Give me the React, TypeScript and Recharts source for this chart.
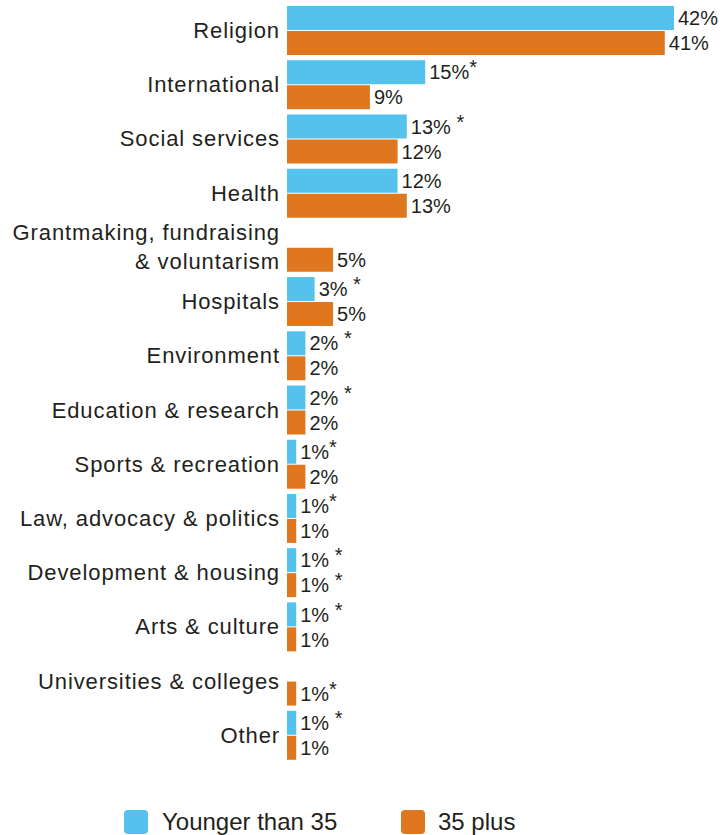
import React from "react";
import { BarChart, Bar, XAxis, YAxis, LabelList } from "recharts";

const categories = [
  "Religion",
  "International",
  "Social services",
  "Health",
  "Grantmaking, fundraising\n& voluntarism",
  "Hospitals",
  "Environment",
  "Education & research",
  "Sports & recreation",
  "Law, advocacy & politics",
  "Development & housing",
  "Arts & culture",
  "Universities & colleges",
  "Other",
];
const younger = [42, 15, 13, 12, null, 3, 2, 2, 1, 1, 1, 1, null, 1];
const older = [41, 9, 12, 13, 5, 5, 2, 2, 2, 1, 1, 1, 1, 1];
const youngerLabels = ["42%", "15%*", "13% *", "12%", "", "3% *", "2% *", "2% *", "1%*", "1%*", "1% *", "1% *", "", "1% *"];
const olderLabels = ["41%", "9%", "12%", "13%", "5%", "5%", "2%", "2%", "2%", "1%", "1% *", "1%", "1%*", "1%"];
const seriesNames = ["Younger than 35", "35 plus"];

const BLUE = "#55c2ee";
const ORANGE = "#de771e";
const TEXT = "#231f20";
const FONT = "'Liberation Sans', Arial, Helvetica, sans-serif";

const data = categories.map((name, i) => ({
  name,
  younger: younger[i],
  older: older[i],
  youngerLabel: youngerLabels[i],
  olderLabel: olderLabels[i],
}));

const CategoryTick = (props: any) => {
  const { x, y, payload } = props;
  const lines = String(payload.value).split("\n");
  const lh = 29;
  const start = -((lines.length - 1) * lh) / 2;
  return (
    <text
      x={x}
      y={y}
      textAnchor="end"
      fill={TEXT}
      fontSize={22}
      fontFamily={FONT}
      letterSpacing={0.9}
    >
      {lines.map((l, i) => (
        <tspan key={i} x={x} y={y + start + i * lh} dy="0.36em">
          {l}
        </tspan>
      ))}
    </text>
  );
};

const ValueLabel = (props: any) => {
  const { x, y, width, height, value } = props;
  const s = value ? String(value) : "";
  if (!s) return null;
  const star = s.indexOf("*");
  const main = star >= 0 ? s.slice(0, star) : s;
  return (
    <text
      x={Number(x) + Number(width) + 4}
      y={Number(y) + Number(height) / 2}
      dy="0.36em"
      fill={TEXT}
      fontSize={20}
      fontFamily={FONT}
      style={{ whiteSpace: "pre" }}
    >
      <tspan>{main}</tspan>
      {star >= 0 ? <tspan dy={-5}>*</tspan> : null}
    </text>
  );
};

const LegendBlock = () => (
  <div
    style={{
      position: "absolute",
      left: 0,
      top: 808,
      width: 722,
      height: 28,
      display: "flex",
      alignItems: "center",
      fontFamily: FONT,
      fontSize: 24,
      color: TEXT,
      paddingLeft: 124,
      boxSizing: "border-box",
    }}
  >
    <span style={{ width: 24, height: 24, background: BLUE, borderRadius: 4, display: "inline-block" }} />
    <span style={{ marginLeft: 14, width: 239 }}>{seriesNames[0]}</span>
    <span style={{ width: 24, height: 24, background: ORANGE, borderRadius: 4, display: "inline-block" }} />
    <span style={{ marginLeft: 13 }}>{seriesNames[1]}</span>
  </div>
);

export default function App() {
  return (
    <div style={{ position: "absolute", left: 0, top: 0, width: 722, height: 835, background: "#fff" }}>
      <BarChart
        width={722}
        height={835}
        data={data}
        layout="vertical"
        margin={{ top: 3, right: 48, bottom: 73, left: 0 }}
        barCategoryGap={3}
        barGap={1}
      >
        <XAxis type="number" domain={[0, 42]} hide />
        <YAxis
          type="category"
          dataKey="name"
          width={287}
          tickLine={false}
          axisLine={false}
          tickSize={0}
          tickMargin={7}
          tick={<CategoryTick />}
          interval={0}
        />
        <Bar dataKey="younger" name={seriesNames[0]} fill={BLUE} isAnimationActive={false}>
          <LabelList dataKey="youngerLabel" content={<ValueLabel />} />
        </Bar>
        <Bar dataKey="older" name={seriesNames[1]} fill={ORANGE} isAnimationActive={false}>
          <LabelList dataKey="olderLabel" content={<ValueLabel />} />
        </Bar>
      </BarChart>
      <LegendBlock />
    </div>
  );
}
